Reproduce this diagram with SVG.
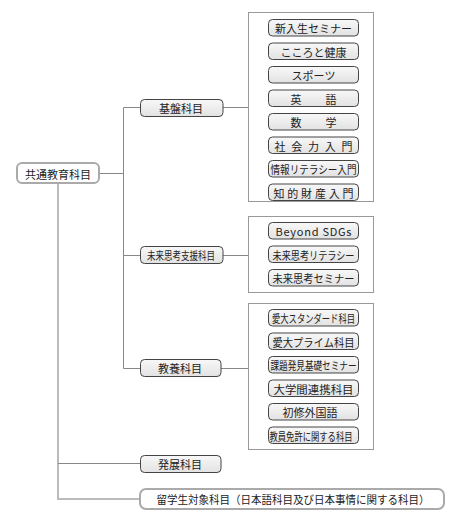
<svg xmlns="http://www.w3.org/2000/svg" width="459" height="531" viewBox="0 0 459 531">
<defs>
<linearGradient id="g" x1="0" y1="0" x2="0" y2="1">
<stop offset="0" stop-color="#f8f8f8"/>
<stop offset="1" stop-color="#e2e2e2"/>
</linearGradient>
</defs>
<style>
text{font-family:"Noto Sans CJK JP","Noto Sans",sans-serif;font-size:11px;fill:#222;text-anchor:middle;dominant-baseline:central}
.item{fill:url(#g);stroke:#444;stroke-width:1}
.lvl{fill:url(#g);stroke:#444;stroke-width:1}
.grp{fill:#fff;stroke:#999;stroke-width:1}
.soft{fill:#fff;stroke:#aaa;stroke-width:2}
.ln{stroke:#888;stroke-width:1;fill:none}
.ln2{stroke:#bbb;stroke-width:2;fill:none}
</style>
<rect width="459" height="531" fill="#fff"/>
<g id="connectors">
<path class="ln" d="M99,173.5H123.5M123.5,107.5V368.5M123.5,107.5H140M123.5,255.5H140M123.5,368.5H140"/>
<path class="ln" d="M223,107.5H248M223,255.5H248M221,368.5H248"/>
<path class="ln2" d="M58,183V499H140"/>
<path class="ln" d="M58,463.5H140"/>
</g>
<g id="root"><rect class="soft" x="17" y="163" width="82" height="20" rx="5"/><text x="58" y="173.5">共通教育科目</text></g>
<g id="kiban"><rect class="lvl" x="140.5" y="99.5" width="82.5" height="17" rx="4"/><text x="181" y="108">基盤科目</text></g>
<g id="mirai"><rect class="lvl" x="140.5" y="246.5" width="82.5" height="17" rx="4"/><text x="181" y="255" textLength="68" lengthAdjust="spacingAndGlyphs">未来思考支援科目</text></g>
<g id="kyoyo"><rect class="lvl" x="140.5" y="359.5" width="80.5" height="17" rx="4"/><text x="180" y="368">教養科目</text></g>
<g id="hatten"><rect class="lvl" x="140.5" y="455.5" width="80.5" height="17" rx="4"/><text x="180" y="464">発展科目</text></g>
<g id="ryugaku"><rect class="soft" x="140" y="489" width="304" height="20" rx="6"/><text x="293" y="499" textLength="273" lengthAdjust="spacingAndGlyphs">留学生対象科目（日本語科目及び日本事情に関する科目）</text></g>

<g id="grp-kiban"><rect class="grp" x="248.5" y="12.5" width="125" height="189"/></g>
<g id="k1"><rect class="item" x="268.5" y="19.5" width="90" height="16.5" rx="4"/><text x="313.5" y="28">新入生セミナー</text></g>
<g id="k2"><rect class="item" x="268.5" y="43" width="90" height="16.5" rx="4"/><text x="313.5" y="51.5">こころと健康</text></g>
<g id="k3"><rect class="item" x="268.5" y="66.5" width="90" height="16.5" rx="4"/><text x="313.5" y="75">スポーツ</text></g>
<g id="k4"><rect class="item" x="268.5" y="90" width="90" height="16.5" rx="4"/><text x="313.5" y="98.5" textLength="46" lengthAdjust="spacing">英　語</text></g>
<g id="k5"><rect class="item" x="268.5" y="113.5" width="90" height="16.5" rx="4"/><text x="313.5" y="122" textLength="46" lengthAdjust="spacing">数　学</text></g>
<g id="k6"><rect class="item" x="268.5" y="137" width="90" height="16.5" rx="4"/><text x="313.5" y="145.5" textLength="78" lengthAdjust="spacing">社会力入門</text></g>
<g id="k7"><rect class="item" x="268.5" y="160.5" width="90" height="16.5" rx="4"/><text x="313.5" y="169" textLength="86" lengthAdjust="spacingAndGlyphs">情報リテラシー入門</text></g>
<g id="k8"><rect class="item" x="268.5" y="184" width="90" height="16.5" rx="4"/><text x="313.5" y="192.5" textLength="80" lengthAdjust="spacing">知的財産入門</text></g>

<g id="grp-mirai"><rect class="grp" x="248.5" y="216.5" width="125" height="76"/></g>
<g id="m1"><rect class="item" x="268.5" y="222.5" width="90" height="16.5" rx="4"/><text x="313.5" y="231" textLength="76" lengthAdjust="spacing">Beyond SDGs</text></g>
<g id="m2"><rect class="item" x="268.5" y="246" width="90" height="16.5" rx="4"/><text x="313.5" y="254.5" textLength="82" lengthAdjust="spacingAndGlyphs">未来思考リテラシー</text></g>
<g id="m3"><rect class="item" x="268.5" y="269.5" width="90" height="16.5" rx="4"/><text x="313.5" y="278" textLength="82" lengthAdjust="spacingAndGlyphs">未来思考セミナー</text></g>

<g id="grp-kyoyo"><rect class="grp" x="248.5" y="303.5" width="125" height="146"/></g>
<g id="y1"><rect class="item" x="268.5" y="309.5" width="90" height="16.5" rx="4"/><text x="313.5" y="318" textLength="83" lengthAdjust="spacingAndGlyphs">愛大スタンダード科目</text></g>
<g id="y2"><rect class="item" x="268.5" y="333" width="90" height="16.5" rx="4"/><text x="313.5" y="341.5" textLength="82" lengthAdjust="spacingAndGlyphs">愛大プライム科目</text></g>
<g id="y3"><rect class="item" x="268.5" y="356.5" width="90" height="16.5" rx="4"/><text x="313.5" y="365" textLength="86" lengthAdjust="spacingAndGlyphs">課題発見基礎セミナー</text></g>
<g id="y4"><rect class="item" x="268.5" y="380" width="90" height="16.5" rx="4"/><text x="313.5" y="388.5" textLength="80" lengthAdjust="spacingAndGlyphs">大学間連携科目</text></g>
<g id="y5"><rect class="item" x="268.5" y="403.5" width="90" height="16.5" rx="4"/><text x="310" y="412">初修外国語</text></g>
<g id="y6"><rect class="item" x="268.5" y="427" width="90" height="16.5" rx="4"/><text x="311" y="435.5" textLength="83" lengthAdjust="spacingAndGlyphs">教員免許に関する科目</text></g>
</svg>
